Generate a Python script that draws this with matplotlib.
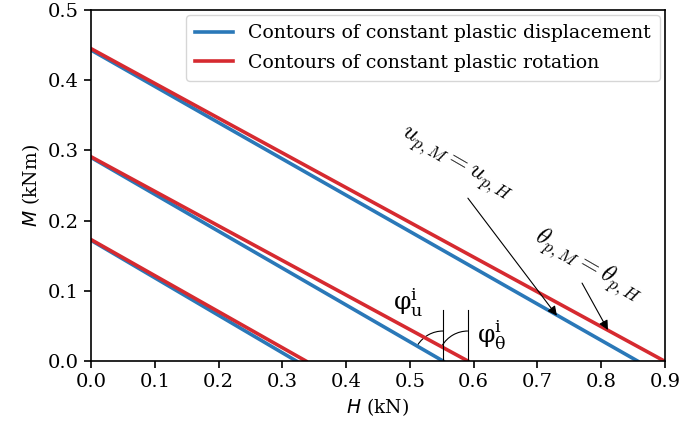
import numpy as np
import matplotlib
matplotlib.use('Agg')
import matplotlib.pyplot as plt
from matplotlib.patches import Arc

# --- Data: contour end points (M intercept at H=0, H intercept at M=0) ---
disp_M0 = [0.443, 0.290, 0.172]
disp_H0 = [0.857, 0.552, 0.322]
rot_M0 = [0.445, 0.291, 0.173]
rot_H0 = [0.899, 0.591, 0.337]

blue = '#2a78b8'
red = '#d62a30'

plt.rcParams['font.family'] = 'DejaVu Serif'
plt.rcParams['mathtext.fontset'] = 'dejavusans'

fig = plt.figure(figsize=(6.82, 4.28), dpi=100)
ax = fig.add_axes([0.1334, 0.1565, 0.8416, 0.8201])

for i in range(len(disp_M0)):
    ax.plot([0, disp_H0[i]], [disp_M0[i], 0], color=blue, lw=2.6,
            label='Contours of constant plastic displacement' if i == 0 else None)
for i in range(len(rot_M0)):
    ax.plot([0, rot_H0[i]], [rot_M0[i], 0], color=red, lw=2.6,
            label='Contours of constant plastic rotation' if i == 0 else None)

# --- angle markers at the middle contours ---
ax_w = 0.8416 * 682
ax_h = 0.8201 * 428
sx = ax_w / 0.9   # px per kN
sy = ax_h / 0.5   # px per kNm
r_px = 30
for H0, M0 in [(disp_H0[1], disp_M0[1]), (rot_H0[1], rot_M0[1])]:
    ax.plot([H0, H0], [0, 0.073], color='k', lw=0.8)
    ang = 180 - np.degrees(np.arctan2(M0 * sy, H0 * sx))
    ax.add_patch(Arc((H0, 0), 2 * r_px / sx, 2 * r_px / sy, theta1=90, theta2=ang,
                     color='k', lw=0.8))

ax.text(0.498, 0.083, r'$\mathrm{\varphi}^{\mathrm{i}}_{\mathrm{u}}$', fontsize=18,
        math_fontfamily='dejavuserif', ha='center', va='center')
ax.text(0.605, 0.036, r'$\mathrm{\varphi}^{\mathrm{i}}_{\mathrm{\theta}}$', fontsize=18,
        math_fontfamily='dejavuserif', ha='left', va='center')

# --- equal-displacement / equal-rotation labels ---
ax.text(0.571, 0.279, r'$u_{p,M} = u_{p,H}$', fontsize=18, math_fontfamily='cm',
        rotation=-30, ha='center', va='center', rotation_mode='anchor')
ax.text(0.779, 0.136, r'$\theta_{p,M} = \theta_{p,H}$', fontsize=18, math_fontfamily='cm',
        rotation=-30, ha='center', va='center', rotation_mode='anchor')
ax.annotate('', xy=(0.7306, 0.0645), xytext=(0.591, 0.232),
            arrowprops=dict(arrowstyle='-|>', color='k', lw=0.8, mutation_scale=14,
                            shrinkA=0, shrinkB=0))
ax.annotate('', xy=(0.8106, 0.0442), xytext=(0.770, 0.111),
            arrowprops=dict(arrowstyle='-|>', color='k', lw=0.8, mutation_scale=14,
                            shrinkA=0, shrinkB=0))

ax.set_xlim(0, 0.9)
ax.set_ylim(0, 0.5)
ax.set_xticks(np.arange(0, 0.91, 0.1))
ax.set_yticks(np.arange(0, 0.51, 0.1))
ax.tick_params(labelsize=14, width=1.2, length=5)
for s in ax.spines.values():
    s.set_linewidth(1.2)
ax.set_xlabel('$H$ (kN)', fontsize=13.5)
ax.set_ylabel('$M$ (kNm)', fontsize=13.5)
ax.legend(loc='upper right', fontsize=13.6, handlelength=2.0, borderpad=0.5,
          labelspacing=0.6, borderaxespad=0.25)

fig.savefig('out.png', dpi=100)
